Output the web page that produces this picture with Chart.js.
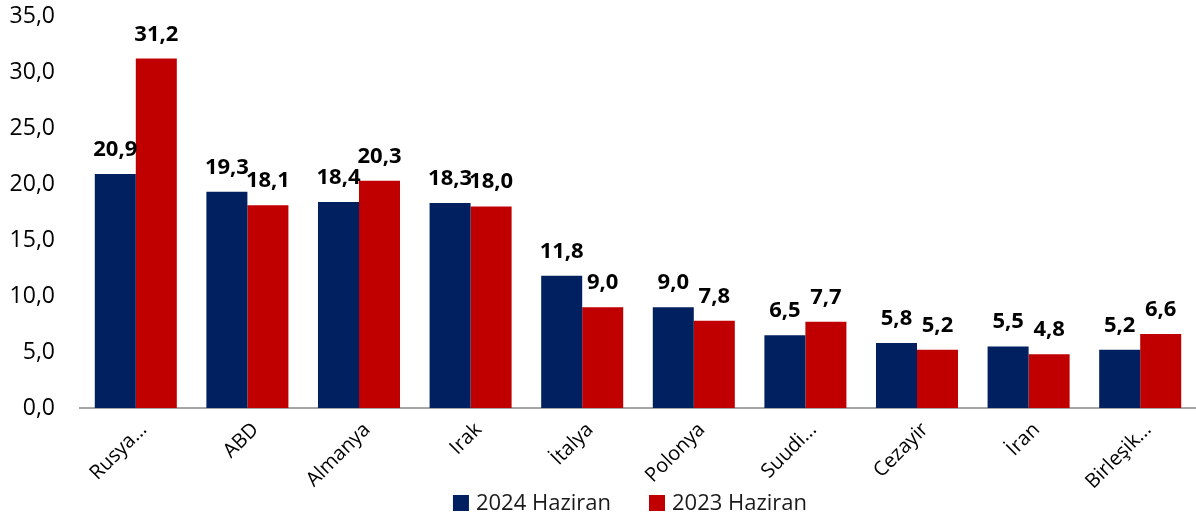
<!DOCTYPE html>
<html>
<head>
<meta charset="utf-8">
<script src="https://cdn.jsdelivr.net/npm/chart.js@4"></script>
<style>
  html, body { margin: 0; padding: 0; background: #fff; }
  #wrap { width: 1196px; height: 523px; }
</style>
</head>
<body>
<div id="wrap"><canvas id="chart"></canvas></div>
<script>
const countries = ["Rusya...", "ABD", "Almanya", "Irak", "İtalya", "Polonya", "Suudi...", "Cezayir", "İran", "Birleşik..."];
const june2024 = [20.9, 19.3, 18.4, 18.3, 11.8, 9.0, 6.5, 5.8, 5.5, 5.2];
const june2023 = [31.2, 18.1, 20.3, 18.0, 9.0, 7.8, 7.7, 5.2, 4.8, 6.6];
const seriesNames = ["2024 Haziran", "2023 Haziran"];
const yMax = 35;
const yStep = 5;

const FONT = "'Open Sans', sans-serif";

function formatComma(value) {
  return Number(value).toFixed(1).replace(".", ",");
}

// etiketleri çubukların üstüne yaz
const barValueLabels = {
  id: "barValueLabels",
  afterDatasetsDraw(chart) {
    const ctx = chart.ctx;
    ctx.save();
    ctx.font = "bold 22px " + FONT;
    ctx.fillStyle = "#000";
    ctx.textAlign = "center";
    ctx.textBaseline = "alphabetic";
    chart.data.datasets.forEach((ds, i) => {
      chart.getDatasetMeta(i).data.forEach((bar, j) => {
        ctx.fillText(formatComma(ds.data[j]), bar.x, bar.y - 18);
      });
    });
    ctx.restore();
  },
};

// lejant: x ekseni etiketlerinin üzerine biner, o yüzden elle çiziliyor
const bottomLegend = {
  id: "bottomLegend",
  afterDraw(chart) {
    const ctx = chart.ctx;
    const area = chart.chartArea;
    const box = 16;
    const gapText = 7;
    const gapItem = 38;
    const y = 503;
    ctx.save();
    ctx.font = "22px " + FONT;
    ctx.textBaseline = "middle";
    ctx.textAlign = "left";
    const items = chart.data.datasets.map((ds) => ({
      label: ds.label,
      color: ds.backgroundColor,
      width: box + gapText + ctx.measureText(ds.label).width,
    }));
    const total = items.reduce((s, it) => s + it.width, 0) + gapItem * (items.length - 1);
    let x = (area.left + area.right) / 2 - 8 - total / 2;
    items.forEach((it) => {
      ctx.fillStyle = it.color;
      ctx.fillRect(x, y - box / 2, box, box);
      ctx.fillStyle = "#1a1a1a";
      ctx.fillText(it.label, x + box + gapText, y + 1);
      x += it.width + gapItem;
    });
    ctx.restore();
  },
};

new Chart(document.getElementById("chart"), {
  type: "bar",
  data: {
    labels: countries,
    datasets: [
      {
        label: seriesNames[0],
        data: june2024,
        backgroundColor: "#002060",
        categoryPercentage: 0.735,
        barPercentage: 1,
      },
      {
        label: seriesNames[1],
        data: june2023,
        backgroundColor: "#C00000",
        categoryPercentage: 0.735,
        barPercentage: 1,
      },
    ],
  },
  options: {
    responsive: true,
    maintainAspectRatio: false,
    animation: false,
    layout: { padding: { top: 16, left: 4, right: 0, bottom: 0 } },
    scales: {
      x: {
        grid: { display: false, drawTicks: false },
        border: { display: true, color: "#a6a6a6", width: 2 },
        ticks: {
          color: "#000",
          maxRotation: 45,
          minRotation: 45,
          padding: 10,
          labelOffset: 8,
          autoSkip: false,
          font: { family: FONT, size: 20 },
        },
        afterFit: (axis) => {
          axis.height = 115;
        },
      },
      y: {
        min: 0,
        max: yMax,
        grid: { display: false, drawTicks: false },
        border: { display: false },
        ticks: {
          stepSize: yStep,
          color: "#000",
          padding: 25,
          font: { family: FONT, size: 23 },
          callback: (value) => formatComma(value),
        },
        afterFit: (axis) => {
          axis.width = 76;
          axis.paddingTop = 0;
        },
      },
    },
    plugins: {
      legend: { display: false },
      tooltip: { enabled: false },
    },
  },
  plugins: [barValueLabels, bottomLegend],
});
</script>
</body>
</html>
